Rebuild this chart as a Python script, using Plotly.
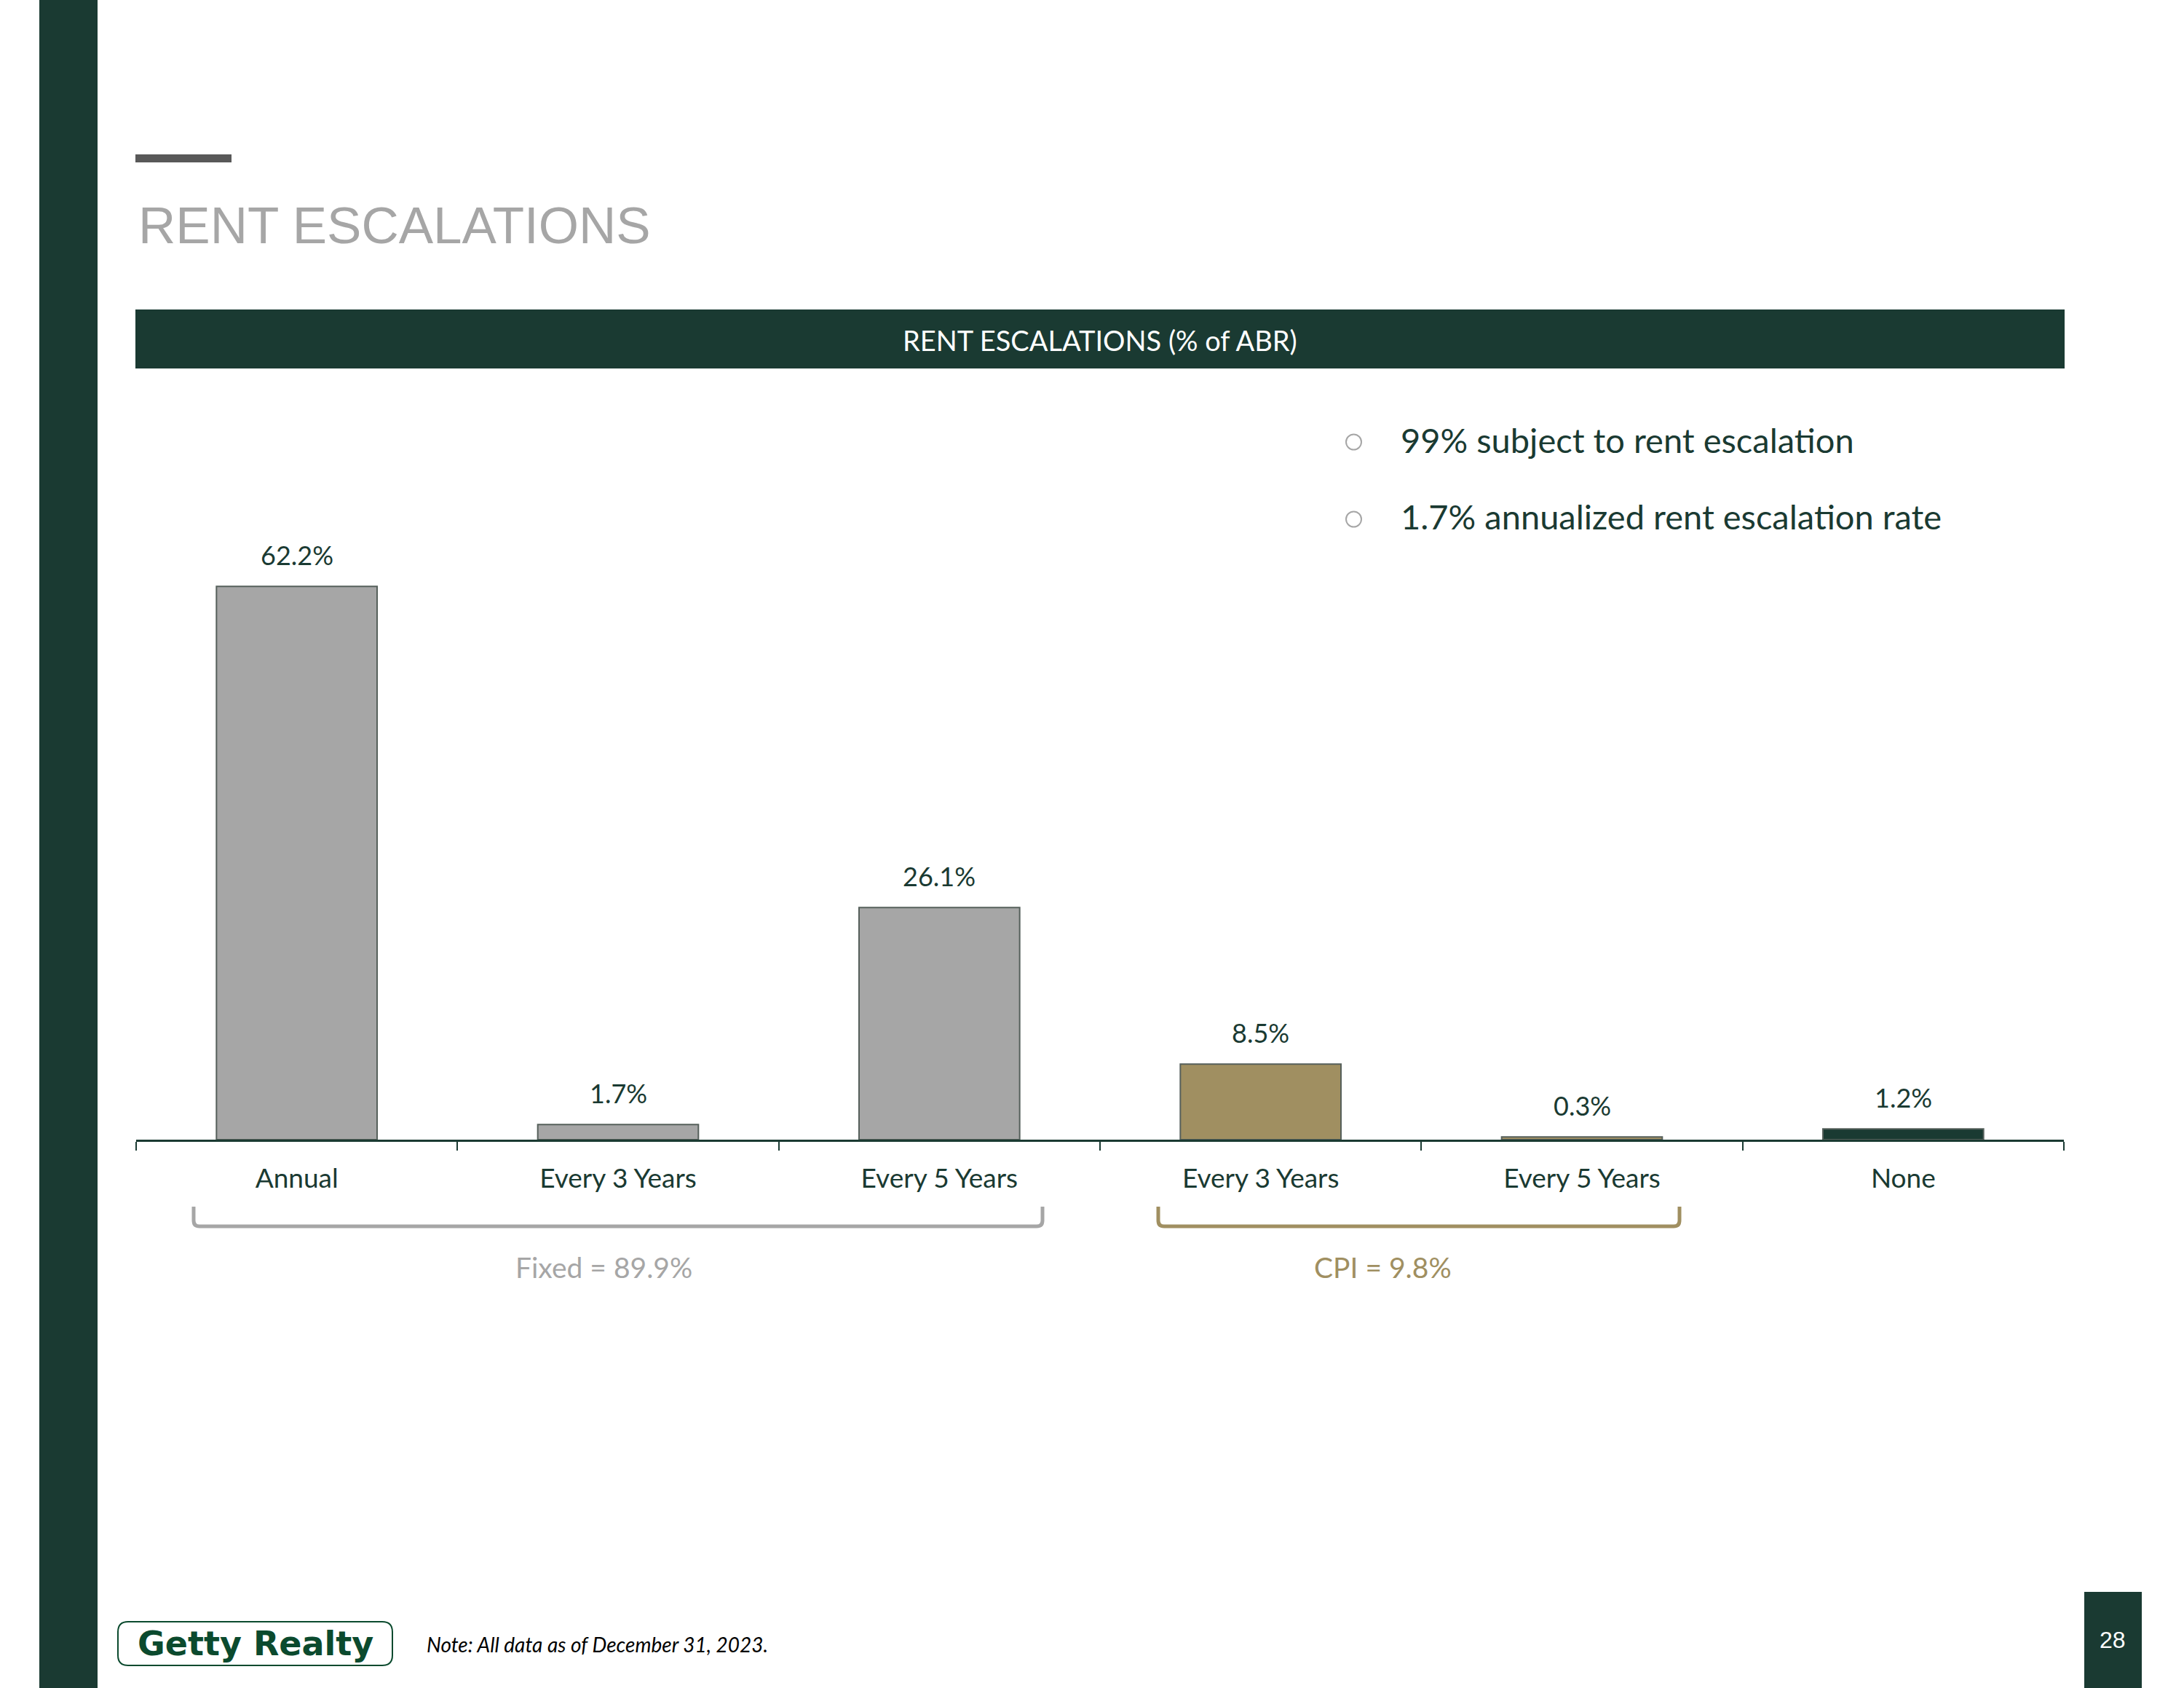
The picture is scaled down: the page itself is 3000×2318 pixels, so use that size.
import plotly.graph_objects as go

# ---- data ----
categories = ["Annual", "Every 3 Years", "Every 5 Years", "Every 3 Years", "Every 5 Years", "None"]
values = [62.2, 1.7, 26.1, 8.5, 0.3, 1.2]
value_labels = ["62.2%", "1.7%", "26.1%", "8.5%", "0.3%", "1.2%"]
groups = ["Fixed", "Fixed", "Fixed", "CPI", "CPI", "None"]
bullets = ["99% subject to rent escalation", "1.7% annualized rent escalation rate"]
group_labels = ["Fixed = 89.9%", "CPI = 9.8%"]

W, H = 3000, 2318
DARK = "#1A3A32"
GRAY = "#A6A6A6"
GOLD = "#A08F61"
color_map = {"Fixed": GRAY, "CPI": GOLD, "None": DARK}
FONT = "Lato"


def px(x):
    return x / W


def py(y):
    return (H - y) / H


xs = list(range(len(categories)))

fig = go.Figure()
fig.add_trace(go.Bar(
    x=xs, y=values, width=0.5,
    marker=dict(color=[color_map[g] for g in groups], line=dict(color="#56605B", width=2)),
    hoverinfo="skip", showlegend=False,
))

annotations = []
for xi, v, lab in zip(xs, values, value_labels):
    annotations.append(dict(x=xi, y=v, xref="x", yref="y", text=lab, showarrow=False,
                            yanchor="bottom", yshift=19,
                            font=dict(family=FONT, size=36, color=DARK)))

shapes = []
# left green stripe
shapes.append(dict(type="rect", xref="paper", yref="paper", x0=px(54), x1=px(134), y0=py(0), y1=py(H),
                   fillcolor=DARK, line=dict(width=0), layer="below"))
# gray dash above title
shapes.append(dict(type="rect", xref="paper", yref="paper", x0=px(186), x1=px(318), y0=py(212), y1=py(223),
                   fillcolor="#595959", line=dict(width=0)))
# header bar
shapes.append(dict(type="rect", xref="paper", yref="paper", x0=px(186), x1=px(2836), y0=py(425), y1=py(506),
                   fillcolor=DARK, line=dict(width=0)))
# bullet circles
for cy in (607, 713):
    shapes.append(dict(type="circle", xref="paper", yref="paper", x0=px(1849), x1=px(1870),
                       y0=py(cy - 10.5), y1=py(cy + 10.5), line=dict(color=GRAY, width=2)))


def bracket(x0, x1, ytop, ybot, color):
    r = 8
    path = (f"M {px(x0)},{py(ytop)} L {px(x0)},{py(ybot - r)} "
            f"Q {px(x0)},{py(ybot)} {px(x0 + r)},{py(ybot)} "
            f"L {px(x1 - r)},{py(ybot)} Q {px(x1)},{py(ybot)} {px(x1)},{py(ybot - r)} "
            f"L {px(x1)},{py(ytop)}")
    return dict(type="path", xref="paper", yref="paper", path=path, line=dict(color=color, width=5))


shapes.append(bracket(266, 1432, 1657, 1684, GRAY))
shapes.append(bracket(1591, 2307, 1657, 1684, GOLD))


def rrect(x0, y0, x1, y1, r, color):
    path = (f"M {px(x0 + r)},{py(y0)} L {px(x1 - r)},{py(y0)} Q {px(x1)},{py(y0)} {px(x1)},{py(y0 + r)} "
            f"L {px(x1)},{py(y1 - r)} Q {px(x1)},{py(y1)} {px(x1 - r)},{py(y1)} "
            f"L {px(x0 + r)},{py(y1)} Q {px(x0)},{py(y1)} {px(x0)},{py(y1 - r)} "
            f"L {px(x0)},{py(y0 + r)} Q {px(x0)},{py(y0)} {px(x0 + r)},{py(y0)} Z")
    return dict(type="path", xref="paper", yref="paper", path=path, line=dict(color=color, width=2))


shapes.append(rrect(162, 2227, 539, 2287, 14, "#0B4A2E"))
# page number box
shapes.append(dict(type="rect", xref="paper", yref="paper", x0=px(2863), x1=px(2942), y0=py(2186), y1=py(H),
                   fillcolor=DARK, line=dict(width=0)))

# texts
annotations.append(dict(x=px(188), y=py(309), xref="paper", yref="paper", text="RENT ESCALATIONS",
                        showarrow=False, xanchor="left", yanchor="middle",
                        font=dict(family="Liberation Sans", size=71, color=GRAY)))
annotations.append(dict(x=px(1511), y=py(467), xref="paper", yref="paper", text="RENT ESCALATIONS (% of ABR)",
                        showarrow=False, xanchor="center", yanchor="middle",
                        font=dict(family=FONT, size=38, color="white")))
for txt, cy in zip(bullets, (604, 709)):
    annotations.append(dict(x=px(1922), y=py(cy), xref="paper", yref="paper", text=txt,
                            showarrow=False, xanchor="left", yanchor="middle",
                            font=dict(family=FONT, size=47, color=DARK)))
annotations.append(dict(x=px(829), y=py(1740), xref="paper", yref="paper", text=group_labels[0],
                        showarrow=False, xanchor="center", yanchor="middle",
                        font=dict(family=FONT, size=39, color=GRAY)))
annotations.append(dict(x=px(1899), y=py(1740), xref="paper", yref="paper", text=group_labels[1],
                        showarrow=False, xanchor="center", yanchor="middle",
                        font=dict(family=FONT, size=39, color=GOLD)))
annotations.append(dict(x=px(351), y=py(2257), xref="paper", yref="paper", text="<b>Getty Realty</b>",
                        showarrow=False, xanchor="center", yanchor="middle",
                        font=dict(family="DejaVu Sans", size=46, color="#0B4A2E")))
annotations.append(dict(x=px(584), y=py(2258), xref="paper", yref="paper",
                        text="<i>Note: All data as of December 31, 2023.</i>",
                        showarrow=False, xanchor="left", yanchor="middle",
                        font=dict(family=FONT, size=28, color="black")))
annotations.append(dict(x=px(2902), y=py(2252), xref="paper", yref="paper", text="28",
                        showarrow=False, xanchor="center", yanchor="middle",
                        font=dict(family="Liberation Sans", size=32, color="white")))

fig.update_layout(
    width=W, height=H,
    margin=dict(l=0, r=0, t=0, b=0),
    paper_bgcolor="white", plot_bgcolor="white",
    shapes=shapes, annotations=annotations,
    xaxis=dict(domain=[px(187), px(2835)], range=[-0.5, 5.5],
               tickmode="array", tickvals=xs, ticktext=categories, ticks="",
               showline=True, linecolor=DARK, linewidth=3, showgrid=False, zeroline=False,
               tickfont=dict(family=FONT, size=37, color=DARK), ticklabelstandoff=19,
               minor=dict(ticks="outside", tick0=-0.5, dtick=1, ticklen=12, tickwidth=2, tickcolor=DARK,
                          showgrid=False)),
    yaxis=dict(domain=[py(1565), py(710)], range=[0, 70], visible=False),
)

fig.write_html("out.html", config={"displayModeBar": False},
               post_script="document.body.style.margin='0';document.body.style.overflow='hidden';")
